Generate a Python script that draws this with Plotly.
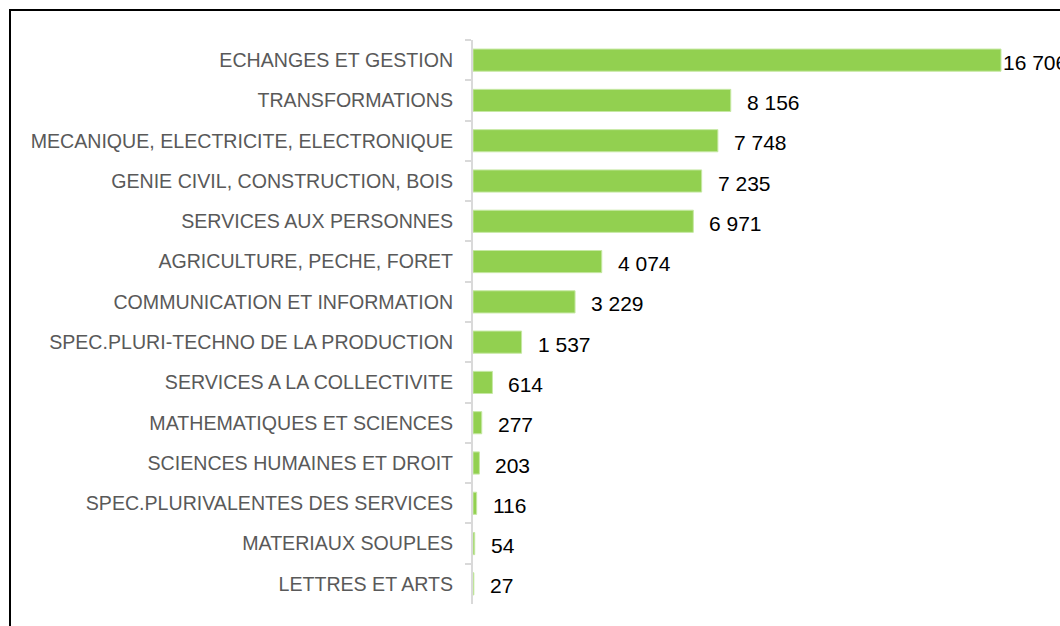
import plotly.graph_objects as go

categories = [
    "ECHANGES ET GESTION",
    "TRANSFORMATIONS",
    "MECANIQUE, ELECTRICITE, ELECTRONIQUE",
    "GENIE CIVIL, CONSTRUCTION, BOIS",
    "SERVICES AUX PERSONNES",
    "AGRICULTURE, PECHE, FORET",
    "COMMUNICATION ET INFORMATION",
    "SPEC.PLURI-TECHNO DE LA PRODUCTION",
    "SERVICES A LA COLLECTIVITE",
    "MATHEMATIQUES ET SCIENCES",
    "SCIENCES HUMAINES ET DROIT",
    "SPEC.PLURIVALENTES DES SERVICES",
    "MATERIAUX SOUPLES",
    "LETTRES ET ARTS",
]
values = [16706, 8156, 7748, 7235, 6971, 4074, 3229, 1537, 614, 277, 203, 116, 54, 27]

labels = [f"{v:,}".replace(",", " ") for v in values]

W, H = 1060, 626
left, right_px = 473, W
top, bottom_px = 40, 604
x_max_px = 1001
scale = (x_max_px - left) / values[0]
xrange_max = (right_px - left) / scale

fig = go.Figure()
fig.add_trace(go.Bar(
    y=categories,
    x=values,
    orientation="h",
    marker=dict(color="#92D050", line=dict(color="#C6E8A4", width=1)),
    hoverinfo="x+y",
))

for i, (c, v, t) in enumerate(zip(categories, values, labels)):
    shift = 0 if i == 0 else 14
    fig.add_annotation(
        x=v, y=c, text=t, showarrow=False, xanchor="left", yanchor="middle",
        xshift=shift, yshift=-2,
        font=dict(family="Liberation Sans, Arial", size=21, color="#000000"),
    )

pw = right_px - left
ph = bottom_px - top
fig.add_shape(
    type="rect", xref="paper", yref="paper",
    x0=(10 - left) / pw, x1=(1200 - left) / pw,
    y0=(bottom_px - 700) / ph, y1=1 + (top - 10) / ph,
    line=dict(color="#000000", width=2), fillcolor="rgba(0,0,0,0)", layer="above",
)

fig.update_layout(
    width=W, height=H,
    margin=dict(l=left, r=W - right_px, t=top, b=H - bottom_px, pad=0),
    paper_bgcolor="white", plot_bgcolor="white",
    bargap=0.45,
    showlegend=False,
    xaxis=dict(range=[0, xrange_max], visible=False, fixedrange=True),
    yaxis=dict(
        type="category", autorange="reversed",
        showline=True, linecolor="#D9D9D9", linewidth=2,
        ticks="outside", tickson="boundaries", ticklen=6, tickcolor="#D9D9D9", tickwidth=2,
        showgrid=False, ticklabelstandoff=14,
        tickfont=dict(family="Liberation Sans, Arial", size=19.6, color="#595959"),
    ),
)

fig.write_html(
    "out.html",
    config={"displayModeBar": False},
    post_script="document.body.style.margin='0';document.body.style.overflow='hidden';",
)
